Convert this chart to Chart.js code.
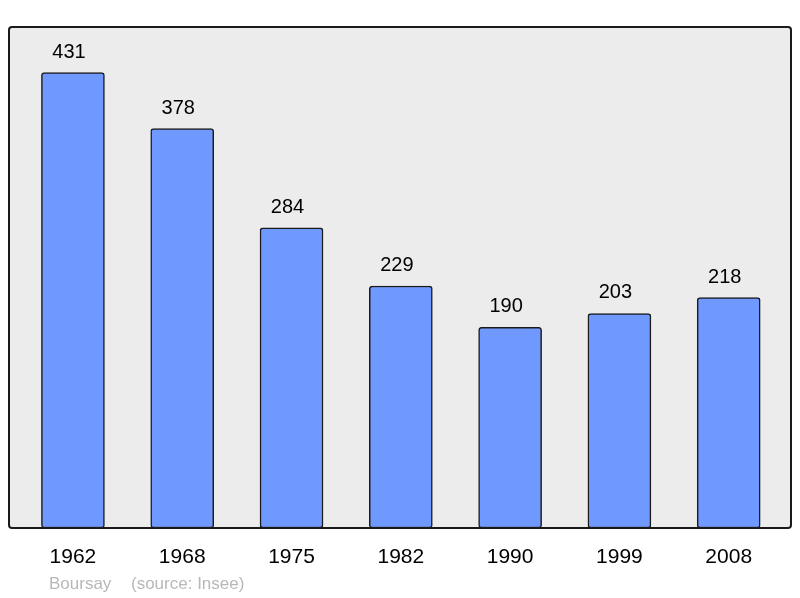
<!DOCTYPE html>
<html>
<head>
<meta charset="utf-8">
<script src="https://cdn.jsdelivr.net/npm/chart.js@4.4.0/dist/chart.umd.min.js"></script>
<style>
  html, body { margin: 0; padding: 0; background: #fff; }
  #wrap { width: 800px; height: 598px; position: relative; }
</style>
</head>
<body>
<div id="wrap"><canvas id="popChart" width="800" height="598"></canvas></div>
<script>
const years = ["1962", "1968", "1975", "1982", "1990", "1999", "2008"];
const population = [431, 378, 284, 229, 190, 203, 218];
const commune = "Boursay";
const sourceNote = "(source: Insee)";

const ctx = document.getElementById("popChart").getContext("2d");

// background + frame around the plot area
const framePlugin = {
  id: "frame",
  beforeDatasetsDraw(chart) {
    const { ctx, chartArea: a } = chart;
    ctx.save();
    ctx.fillStyle = "#ececec";
    ctx.beginPath();
    ctx.roundRect(a.left, a.top, a.right - a.left, a.bottom - a.top, 3);
    ctx.fill();
    ctx.restore();
  },
  afterDatasetsDraw(chart) {
    const { ctx, chartArea: a } = chart;
    ctx.save();
    ctx.strokeStyle = "#1a1a1a";
    ctx.lineWidth = 2;
    ctx.beginPath();
    ctx.roundRect(a.left, a.top, a.right - a.left, a.bottom - a.top, 3);
    ctx.stroke();

    // value labels above bars
    const meta = chart.getDatasetMeta(0);
    ctx.fillStyle = "#000";
    ctx.font = "20px 'Liberation Sans', Arial, sans-serif";
    ctx.textAlign = "center";
    ctx.textBaseline = "alphabetic";
    meta.data.forEach((bar, i) => {
      ctx.fillText(String(population[i]), bar.x - 4, bar.y - 15);
    });

    // source line
    ctx.fillStyle = "#b8b8b8";
    ctx.font = "17px 'Liberation Sans', Arial, sans-serif";
    ctx.textAlign = "left";
    ctx.textBaseline = "middle";
    ctx.fillText(commune, 49, 584);
    ctx.fillText(sourceNote, 131, 584);
    ctx.restore();
  },
};

const chart = new Chart(ctx, {
  type: "bar",
  data: {
    datasets: [
      {
        data: population.map((v, i) => ({ x: i, y: v })),
        backgroundColor: "#7099ff",
        borderColor: "#1a1a1a",
        borderWidth: 1.5,
        borderRadius: 3,
        borderSkipped: false,
        barThickness: 63,
      },
    ],
  },
  options: {
    responsive: false,
    animation: false,
    layout: {
      padding: { left: 9, right: 9, top: 27, bottom: 0 },
    },
    plugins: {
      legend: { display: false },
      tooltip: { enabled: false },
    },
    scales: {
      x: {
        type: "linear",
        offset: false,
        min: -0.585,
        max: 6.57,
        afterFit(scale) {
          scale.height = 70;
        },
        afterBuildTicks(scale) {
          scale.ticks = years.map((y, i) => ({ value: i }));
        },
        grid: { display: false, drawTicks: false, offset: false },
        border: { display: false },
        ticks: {
          padding: 17,
          color: "#000",
          font: { size: 21, family: "'Liberation Sans', Arial, sans-serif" },
          callback: function (value) {
            return years[value];
          },
        },
      },
      y: {
        display: false,
        min: 0,
        max: 474.1,
      },
    },
  },
  plugins: [framePlugin],
});
</script>
</body>
</html>
